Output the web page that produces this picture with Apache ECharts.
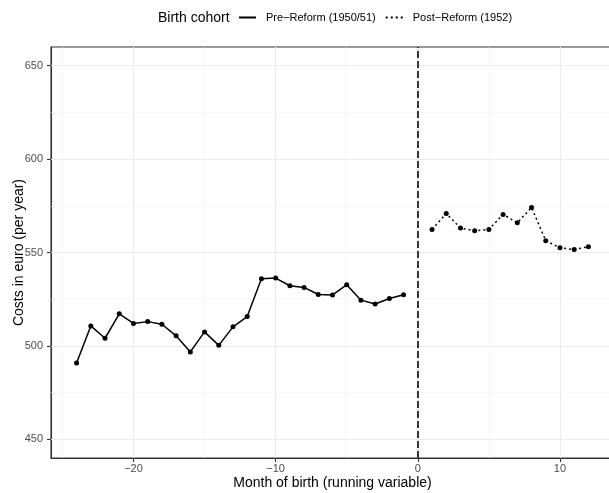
<!DOCTYPE html>
<html>
<head>
<meta charset="utf-8">
<script src="https://cdn.jsdelivr.net/npm/echarts@6/dist/echarts.min.js"></script>
<style>
  html, body { margin: 0; padding: 0; background: #ffffff; }
  #chart { width: 609px; height: 493px; }
</style>
</head>
<body>
<div id="chart"></div>
<script>
// Monthly costs per birth cohort around the reform cutoff
const preMonths = [-24, -23, -22, -21, -20, -19, -18, -17, -16, -15, -14, -13,
                   -12, -11, -10, -9, -8, -7, -6, -5, -4, -3, -2, -1];
const preCosts = [490.8, 510.7, 504.1, 517.2, 512.0, 513.0, 511.6, 505.4, 496.8, 507.5, 500.3, 510.2,
                  515.7, 535.9, 536.3, 532.2, 531.3, 527.5, 527.3, 532.7, 524.5, 522.4, 525.4, 527.4];
const postMonths = [1, 2, 3, 4, 5, 6, 7, 8, 9, 10, 11, 12];
const postCosts = [562.3, 570.9, 563.1, 561.6, 562.3, 570.4, 565.9, 574.1, 556.3, 552.5, 551.6, 553.1];

const xTickValues = [-20, -10, 0, 10];
const xMinorValues = [-25, -15, -5, 5];
const yTickValues = [450, 500, 550, 600, 650];
const yMinorValues = [475, 525, 575, 625];
const cutoffMonth = 0;

const legendTitle = 'Birth cohort';
const preName = 'Pre\u2212Reform (1950/51)';
const postName = 'Post\u2212Reform (1952)';
const xTitle = 'Month of birth (running variable)';
const yTitle = 'Costs in euro (per year)';

const FONT = '"Liberation Sans", Arial, Helvetica, sans-serif';
const minus = v => String(v).replace('-', '\u2212');

const pairs = (xs, ys) => xs.map((x, i) => [x, ys[i]]);

const minorStyle = { color: '#f3f3f3', width: 0.6, type: 'solid' };
const majorStyle = { color: '#ebebeb', width: 1.1, type: 'solid' };
const gridLines = []
  .concat(xMinorValues.map(v => ({ xAxis: v, lineStyle: minorStyle })))
  .concat(yMinorValues.map(v => ({ yAxis: v, lineStyle: minorStyle })))
  .concat(xTickValues.map(v => ({ xAxis: v, lineStyle: majorStyle })))
  .concat(yTickValues.map(v => ({ yAxis: v, lineStyle: majorStyle })));

const tickStyle = { color: '#333333', width: 1.1 };

const chart = echarts.init(document.getElementById('chart'), null, { renderer: 'canvas' });

chart.setOption({
  animation: false,
  backgroundColor: '#ffffff',
  textStyle: { fontFamily: FONT },
  graphic: [{
    type: 'text',
    left: 158,
    top: 11,
    style: { text: legendTitle, font: '14px ' + FONT, fill: '#000000' }
  }],
  legend: {
    left: 238,
    top: 12,
    padding: 0,
    itemWidth: 17,
    itemHeight: 12,
    itemGap: 9,
    selectedMode: false,
    data: [preName, postName],
    textStyle: { fontFamily: FONT, fontSize: 11, color: '#000000', padding: [0, 0, 0, 5] },
    itemStyle: { opacity: 0 }
  },
  grid: {
    left: 51,
    top: 47,
    width: 563,
    height: 411,
    outerBoundsMode: 'none',
    containLabel: false,
    show: true,
    borderColor: '#333333',
    borderWidth: 1.1,
    backgroundColor: 'transparent'
  },
  xAxis: {
    type: 'value',
    min: -25.8,
    max: 13.8,
    name: xTitle,
    nameLocation: 'middle',
    nameGap: 18,
    nameMoveOverlap: false,
    nameTextStyle: { fontFamily: FONT, fontSize: 14, color: '#000000' },
    axisLine: { show: true, onZero: false, lineStyle: tickStyle },
    splitLine: { show: false },
    axisTick: { show: true, inside: false, length: 4, customValues: xTickValues, lineStyle: tickStyle },
    axisLabel: { customValues: xTickValues, formatter: minus, fontSize: 11, color: '#4d4d4d', margin: 5, fontFamily: FONT }
  },
  yAxis: {
    type: 'value',
    min: 440,
    max: 660,
    name: yTitle,
    nameLocation: 'middle',
    nameGap: 25,
    nameMoveOverlap: false,
    nameTextStyle: { fontFamily: FONT, fontSize: 14, color: '#000000' },
    axisLine: { show: true, onZero: false, lineStyle: tickStyle },
    splitLine: { show: false },
    axisTick: { show: true, inside: false, length: 4, customValues: yTickValues, lineStyle: tickStyle },
    axisLabel: { customValues: yTickValues, formatter: minus, fontSize: 11, color: '#4d4d4d', margin: 8, fontFamily: FONT }
  },
  series: [
    {
      name: 'panel-grid',
      type: 'line',
      data: [],
      z: 1,
      silent: true,
      markLine: {
        z: 1,
        silent: true,
        symbol: ['none', 'none'],
        label: { show: false },
        emphasis: { disabled: true },
        data: gridLines
      }
    },
    {
      name: preName,
      type: 'line',
      data: pairs(preMonths, preCosts),
      z: 3,
      symbol: 'circle',
      symbolSize: 5,
      itemStyle: { color: '#000000' },
      lineStyle: { color: '#000000', width: 1.5, type: 'solid' },
      markLine: {
        z: 2,
        silent: true,
        symbol: ['none', 'none'],
        label: { show: false },
        emphasis: { disabled: true },
        lineStyle: { color: '#222222', width: 1.8, type: [7, 3] },
        data: [{ xAxis: cutoffMonth }]
      }
    },
    {
      name: postName,
      type: 'line',
      data: pairs(postMonths, postCosts),
      z: 3,
      symbol: 'circle',
      symbolSize: 5,
      itemStyle: { color: '#000000' },
      lineStyle: { color: '#000000', width: 1.5, type: [2, 3] }
    }
  ]
});
</script>
</body>
</html>
